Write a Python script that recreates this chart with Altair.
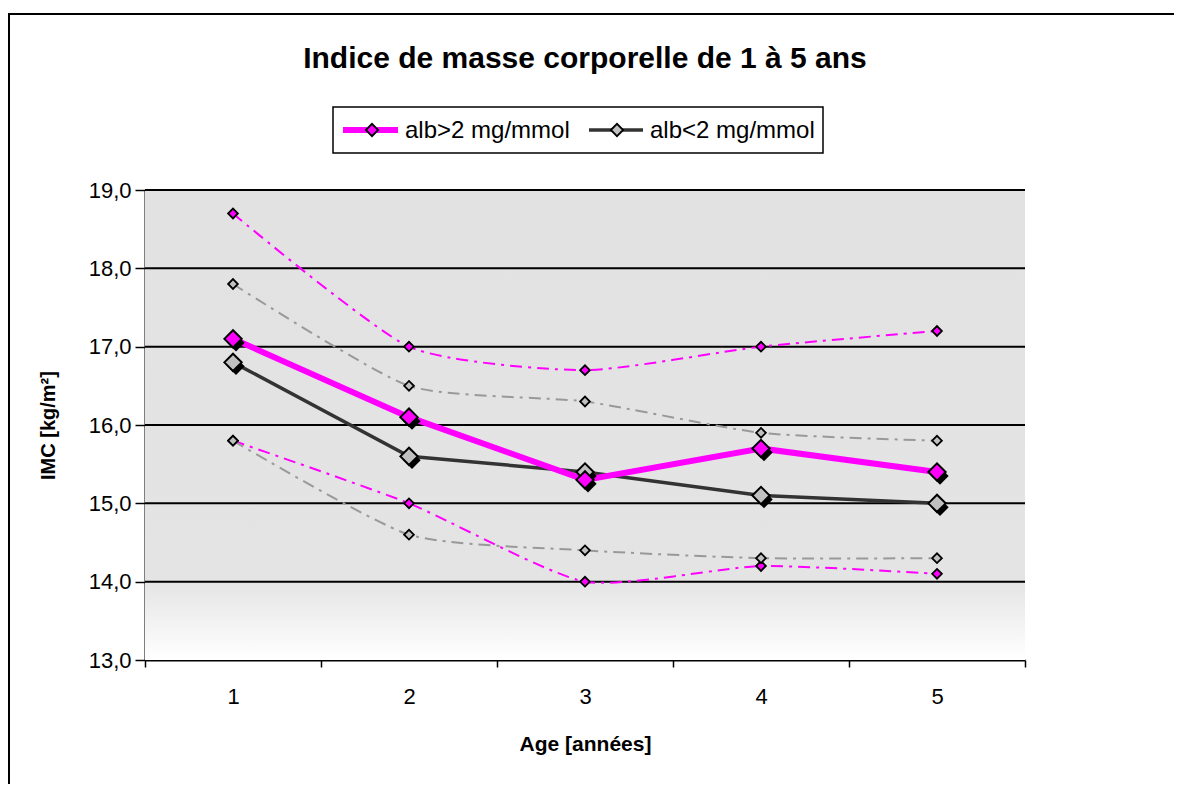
import altair as alt
import pandas as pd

ages = [1, 2, 3, 4, 5]
series_names = ["alb>2 mg/mmol", "alb<2 mg/mmol"]

# alb>2 mg/mmol
high_mean = [17.1, 16.1, 15.3, 15.7, 15.4]
high_upper = [18.7, 17.0, 16.7, 17.0, 17.2]
high_lower = [15.8, 15.0, 14.0, 14.2, 14.1]
# alb<2 mg/mmol
low_mean = [16.8, 15.6, 15.4, 15.1, 15.0]
low_upper = [17.8, 16.5, 16.3, 15.9, 15.8]
low_lower = [15.8, 14.6, 14.4, 14.3, 14.3]

y_ticks = [13.0, 14.0, 15.0, 16.0, 17.0, 18.0, 19.0]

rows = []
for name, mean, up, lo in [
    (series_names[0], high_mean, high_upper, high_lower),
    (series_names[1], low_mean, low_upper, low_lower),
]:
    for band, vals in [("mean", mean), ("upper", up), ("lower", lo)]:
        for a, v in zip(ages, vals):
            rows.append({"age": a, "imc": v, "serie": name, "band": band,
                         "key": name + "|" + band})
df = pd.DataFrame(rows)

W, H = 880, 470
FONT = "Liberation Sans"
PINK = "#ff00ff"
DARK = "#333333"
LIGHT = "#999999"
GREYFILL = "#c0c0c0"

x_enc = alt.X("age:O", title="Age [années]",
              scale=alt.Scale(domain=ages, paddingInner=0, paddingOuter=0),
              axis=alt.Axis(labelAngle=0, tickBand="extent", tickSize=7,
                            tickColor="black", tickWidth=1.5,
                            domainColor="black", domainWidth=2,
                            labelFontSize=22, labelPadding=19,
                            titleFontSize=21, titlePadding=26,
                            labelFont=FONT, titleFont=FONT))
y_scale = alt.Scale(domain=[13, 19], nice=False, zero=False)
y_enc = alt.Y("imc:Q", title="IMC [kg/m²]", scale=y_scale,
              axis=alt.Axis(values=y_ticks, grid=False, tickSize=10,
                            tickColor="black", tickWidth=1.5,
                            domainColor="black", domainWidth=2,
                            labelExpr="replace(format(datum.value, '.1f'), '.', ',')",
                            labelFontSize=22, labelPadding=4,
                            titleFontSize=20, titlePadding=30,
                            labelFont=FONT, titleFont=FONT))

one = pd.DataFrame({"a": [0]})

background = alt.Chart(one).mark_rect(
    color=alt.Gradient(gradient="linear", x1=0, x2=0, y1=0, y2=1,
                       stops=[alt.GradientStop(offset=0, color="#e2e2e2"),
                              alt.GradientStop(offset=0.83, color="#e4e4e4"),
                              alt.GradientStop(offset=1, color="#ffffff")])
).encode(x=alt.value(0), x2=alt.value(W), y=alt.value(0), y2=alt.value(H))

# outer frame of the figure (top and left edges), drawn as thin filled bars
frame_top = alt.Chart(one).mark_rect(fill="black", strokeWidth=0).encode(
    x=alt.value(-137), x2=alt.value(1060), y=alt.value(-177), y2=alt.value(-175))
frame_left = alt.Chart(one).mark_rect(fill="black", strokeWidth=0).encode(
    x=alt.value(-137), x2=alt.value(-135), y=alt.value(-177), y2=alt.value(640))

grid = alt.Chart(pd.DataFrame({"v": y_ticks[1:]})).mark_rule(
    color="black", strokeWidth=2).encode(y=alt.Y("v:Q", scale=y_scale))

base = alt.Chart(df)

layers = [background, frame_top, frame_left, grid]

# dashed range lines
for name, col in [(series_names[0], PINK), (series_names[1], LIGHT)]:
    layers.append(
        base.transform_filter(
            (alt.datum.serie == name) & (alt.datum.band != "mean")
        ).mark_line(color=col, strokeWidth=2, strokeDash=[12, 6, 3, 6],
                    interpolate="cardinal", tension=0.4).encode(
            x=x_enc, y=y_enc, detail="key:N"))

# main lines (gray first, pink above)
for name, col, sw in [(series_names[1], DARK, 3.5), (series_names[0], PINK, 6)]:
    layers.append(
        base.transform_filter(
            (alt.datum.serie == name) & (alt.datum.band == "mean")
        ).mark_line(color=col, strokeWidth=sw).encode(x=x_enc, y=y_enc))

# small markers
for name, col in [(series_names[0], PINK), (series_names[1], GREYFILL)]:
    layers.append(
        base.transform_filter(
            (alt.datum.serie == name) & (alt.datum.band != "mean")
        ).mark_point(shape="diamond", filled=True, size=95, fill=col,
                     stroke="black", strokeWidth=1.8, opacity=1).encode(
            x=x_enc, y=y_enc))

# main markers with shadows
for name, col in [(series_names[1], GREYFILL), (series_names[0], PINK)]:
    sub = base.transform_filter(
        (alt.datum.serie == name) & (alt.datum.band == "mean"))
    layers.append(sub.mark_point(shape="diamond", filled=True, size=300, color="black",
                                 xOffset=3, yOffset=4, opacity=1).encode(x=x_enc, y=y_enc))
    layers.append(sub.mark_point(shape="diamond", filled=True, size=300, fill=col,
                                 stroke="black", strokeWidth=2, opacity=1).encode(x=x_enc, y=y_enc))

# legend (drawn with marks)
LY = -60
leg = [
    alt.Chart(one).mark_rect(fill="white", stroke="black", strokeWidth=1.5).encode(
        x=alt.value(188), x2=alt.value(678), y=alt.value(-83), y2=alt.value(-37)),
    alt.Chart(one).mark_rule(color=PINK, strokeWidth=6).encode(
        x=alt.value(198), x2=alt.value(253), y=alt.value(LY)),
    alt.Chart(one).mark_rule(color=DARK, strokeWidth=3.5).encode(
        x=alt.value(444), x2=alt.value(498), y=alt.value(LY)),
    alt.Chart(one).mark_point(shape="diamond", filled=True, size=150, fill=PINK,
                              stroke="black", strokeWidth=1.8, opacity=1).encode(
        x=alt.value(227), y=alt.value(LY)),
    alt.Chart(one).mark_point(shape="diamond", filled=True, size=150, fill=GREYFILL,
                              stroke="black", strokeWidth=1.8, opacity=1).encode(
        x=alt.value(472), y=alt.value(LY)),
    alt.Chart(one).mark_text(text=series_names[0], align="left", baseline="middle",
                             fontSize=24, font=FONT).encode(
        x=alt.value(260), y=alt.value(LY + 1)),
    alt.Chart(one).mark_text(text=series_names[1], align="left", baseline="middle",
                             fontSize=24, font=FONT).encode(
        x=alt.value(505), y=alt.value(LY + 1)),
]
layers += leg

chart = alt.layer(*layers).properties(
    width=W, height=H,
    title=alt.Title("Indice de masse corporelle de 1 à 5 ans", fontSize=30, font=FONT,
                    fontWeight="bold", anchor="middle", frame="group",
                    baseline="alphabetic", offset=-85, color="black"),
    autosize=alt.AutoSizeParams(type="none"),
    padding={"left": 137, "top": 182, "right": 149, "bottom": 124},
).configure_view(stroke=None).configure_axis(labelColor="black", titleColor="black")

chart.save("out.html", embed_options={"renderer": "svg", "actions": False})
